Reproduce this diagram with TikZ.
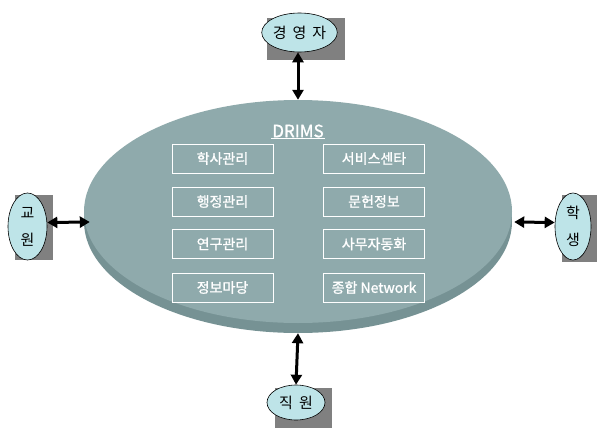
\documentclass[tikz,border=0pt]{standalone}
\usepackage{fontspec}
\newfontfamily\kr[FakeBold=1.2]{Noto Sans CJK KR}
\newfontfamily\krn{Noto Sans CJK KR}
\usetikzlibrary{shapes.geometric,arrows.meta}
\definecolor{topcol}{RGB}{143,170,172}
\definecolor{rimcol}{RGB}{118,146,148}
\definecolor{lightcol}{RGB}{190,228,232}
\definecolor{shadowgray}{RGB}{128,128,128}
\tikzset{
  actor/.style={ellipse, draw=black, line width=0.6pt, fill=lightcol, inner sep=0pt, font=\krn\fontsize{15}{27}\selectfont, align=center},
  modbox/.style={draw=white, line width=1pt, minimum width=101pt, minimum height=29pt, inner sep=0pt, text=white, font=\kr\fontsize{14}{15}\selectfont},
  arr/.style={line width=3pt, {Triangle[length=10pt,width=11pt]}-{Triangle[length=10pt,width=11pt]}},
  shadowbox/.style={fill=shadowgray}
}
\begin{document}
\begin{tikzpicture}[x=1pt,y=-1pt]
\useasboundingbox[fill=white] (0,0) rectangle (597,428);
% big disc
\fill[rimcol] (298,221.5) ellipse [x radius=214, y radius=111.5];
\node[ellipse, fill=topcol, minimum width=428pt, minimum height=223pt, inner sep=0pt] (big) at (298,211.5) {};
\node[inner sep=1pt, text=white, font=\kr\fontsize{17}{18}\selectfont] (drims) at (298,131) {DRIMS};
\draw[white, line width=0.8pt] (drims.south west) -- (drims.south east);
% module boxes
\node[modbox] (b1) at (222.5,158.5) {학사관리};
\node[modbox] (b2) at (222.5,201.5) {행정관리};
\node[modbox] (b3) at (222.5,244) {연구관리};
\node[modbox] (b4) at (222.5,287.5) {정보마당};
\node[modbox] (c1) at (374,158.5) {서비스센타};
\node[modbox] (c2) at (374,201.5) {문헌정보};
\node[modbox] (c3) at (374,244) {사무자동화};
\node[modbox] (c4) at (374,287.5) {종합 Network};
% actors with shadows
\fill[shadowbox] (267,18) rectangle (345,60);
\node[actor, minimum width=75pt, minimum height=39pt] (mgr) at (299.5,32.5) {경\hspace{6pt}영\hspace{6pt}자};
\fill[shadowbox] (15,195) rectangle (53,260);
\node[actor, minimum width=39pt, minimum height=67pt] (fac) at (27.5,226.5) {교\\원};
\fill[shadowbox] (562,195) rectangle (597,262);
\node[actor, minimum width=36pt, minimum height=67pt] (stu) at (573,226.5) {학\\생};
\fill[shadowbox] (275,388) rectangle (332,428);
\node[actor, minimum width=58pt, minimum height=35pt] (stf) at (296,402.5) {직\hspace{6pt}원};
% arrows
\draw[arr] ([xshift=-1.5pt]mgr.south) -- (big.north);
\draw[arr] ([yshift=-10pt]big.south) -- (stf.north);
\draw[arr] ([yshift=4pt]fac.east) -- ([xshift=6pt,yshift=-10.5pt]big.west);
\draw[arr] ([xshift=2pt,yshift=-10.5pt]big.east) -- ([yshift=4pt]stu.west);
\end{tikzpicture}
\end{document}
